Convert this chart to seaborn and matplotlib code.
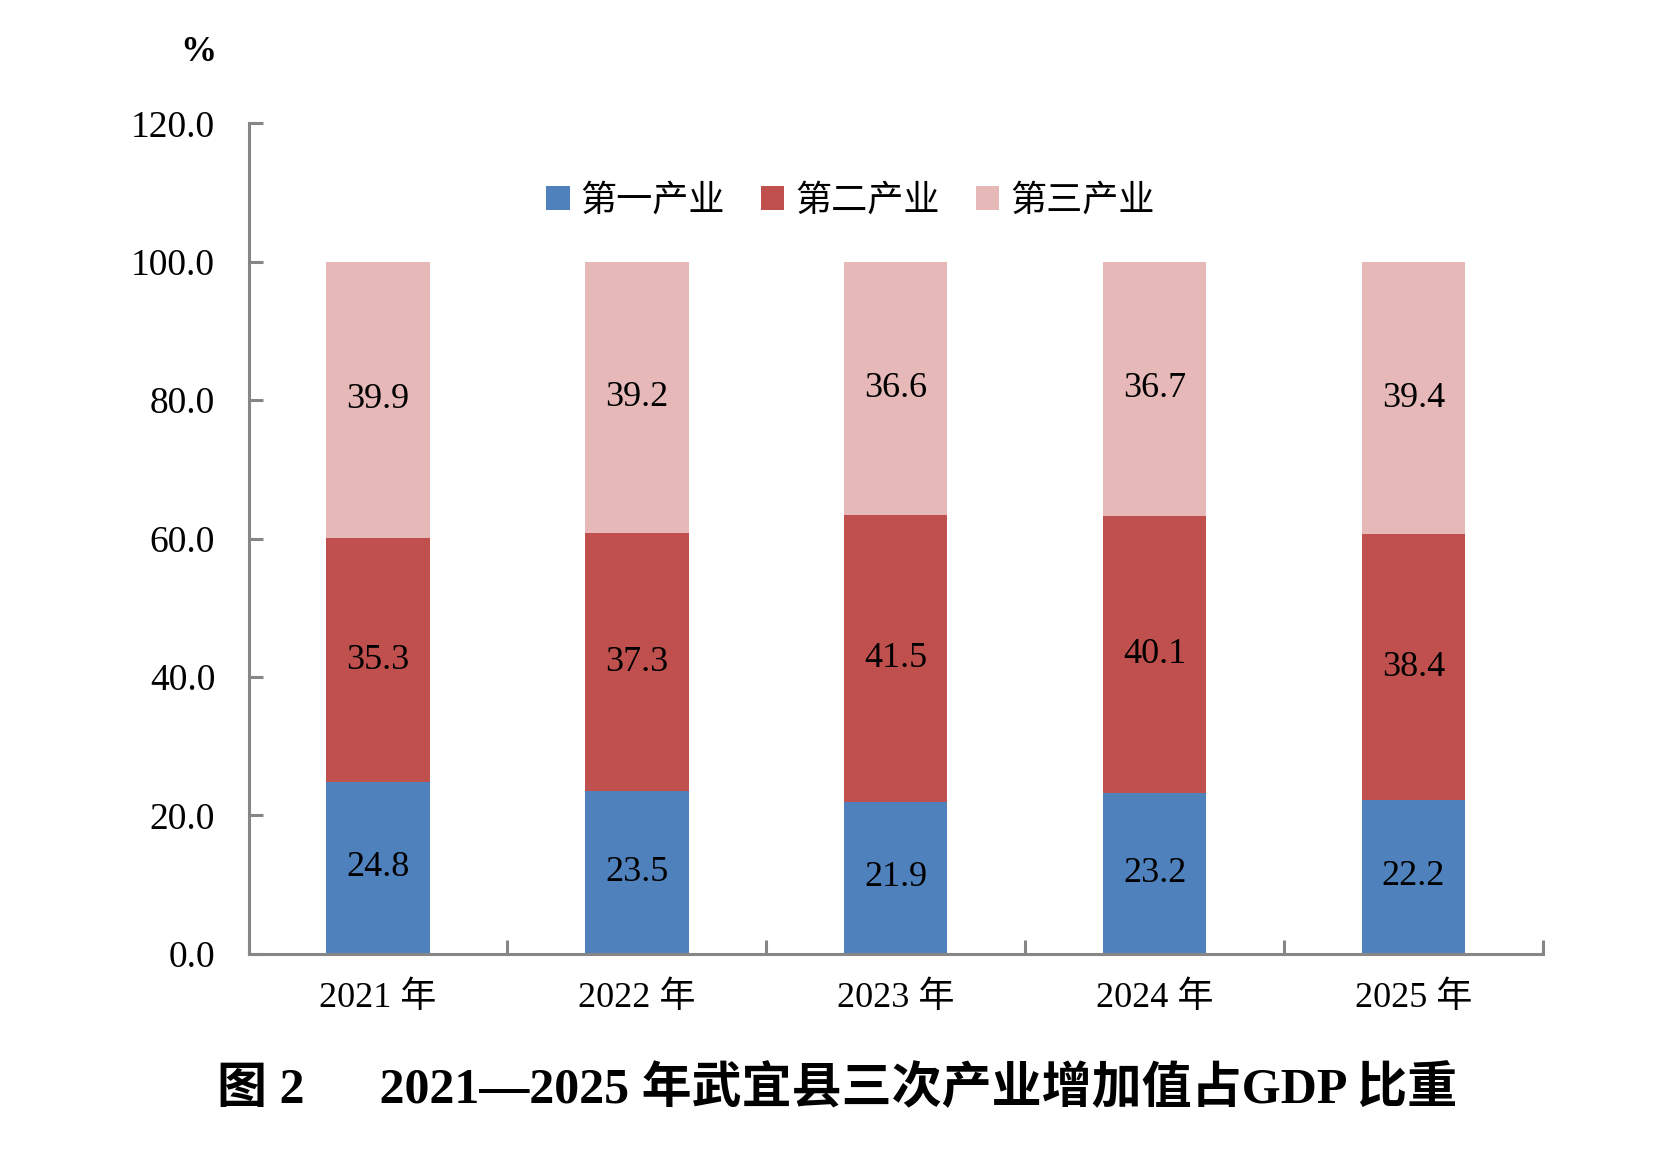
import numpy as np
import pandas as pd
import matplotlib
matplotlib.use("Agg")
import matplotlib.pyplot as plt
import seaborn as sns
from matplotlib.patches import Patch

# datos
anios = ["2021 年", "2022 年", "2023 年", "2024 年", "2025 年"]
primario = [24.8, 23.5, 21.9, 23.2, 22.2]
secundario = [35.3, 37.3, 41.5, 40.1, 38.4]
terciario = [39.9, 39.2, 36.6, 36.7, 39.4]
series = ["第一产业", "第二产业", "第三产业"]
colores = ["#4F81BD", "#C0504D", "#E6B9B8"]
yticks = [0, 20, 40, 60, 80, 100, 120]

sns.set_style("white")
fuentes = ["Liberation Serif", "Noto Sans CJK SC"]
plt.rcParams["font.family"] = fuentes
plt.rcParams["text.color"] = "black"
plt.rcParams["xtick.labelcolor"] = "black"
plt.rcParams["ytick.labelcolor"] = "black"

df = pd.DataFrame({
    "anio": anios,
    "primario": primario,
    "secundario": secundario,
    "terciario": terciario,
})
df["s1"] = df["primario"]
df["s2"] = df["s1"] + df["secundario"]
df["s3"] = df["s2"] + df["terciario"]

fig = plt.figure(figsize=(16.68, 11.76), dpi=100)
ax = fig.add_axes([0.149, 0.189, 0.776, 0.706])

# barras apiladas: de la mas alta a la mas baja
for col, color in zip(["s3", "s2", "s1"], colores[::-1]):
    sns.barplot(data=df, x="anio", y=col, color=color, width=0.4,
                saturation=1, ax=ax, linewidth=0)

# etiquetas de datos
for i in range(len(anios)):
    bases = [0, df["s1"][i], df["s2"][i]]
    valores = [primario[i], secundario[i], terciario[i]]
    for b, v in zip(bases, valores):
        ax.text(i, b + v / 2, f"{v:.1f}", ha="center", va="center",
                fontsize=26, color="black")

ax.set_ylim(0, 120)
ax.set_xlim(-0.5, len(anios) - 0.5)
ax.set_yticks(yticks)
ax.set_yticklabels([f"{t:.1f}" for t in yticks])
ax.set_xlabel("")
ax.set_ylabel("")

gris = "#868686"
for lado in ["top", "right"]:
    ax.spines[lado].set_visible(False)
for lado in ["left", "bottom"]:
    ax.spines[lado].set_color(gris)
    ax.spines[lado].set_linewidth(2.2)

ax.tick_params(axis="y", direction="in", length=10, width=2.2,
               color=gris, labelsize=27, pad=24, left=True)
ax.tick_params(axis="x", which="major", length=0, labelsize=26, pad=20)
ax.set_xticks(np.arange(-0.5, len(anios), 1.0), minor=True)
ax.tick_params(axis="x", which="minor", direction="in", length=10,
               width=2.2, color=gris, bottom=True)

handles = [Patch(facecolor=c, edgecolor="none") for c in colores]
ax.legend(handles, series, loc="upper center", bbox_to_anchor=(0.465, 0.965),
          ncol=3, frameon=False, fontsize=26, handlelength=0.65,
          handleheight=0.65, handletextpad=0.3, columnspacing=1.0)

fig.text(0.119, 0.955, "%", fontsize=26, fontweight="bold",
         ha="center", va="center")
fig.text(0.502, 0.073, "图 2      2021—2025 年武宜县三次产业增加值占GDP 比重",
         fontsize=36, fontweight="bold", ha="center", va="center")

fig.savefig("out.png", dpi=100, facecolor="white")
